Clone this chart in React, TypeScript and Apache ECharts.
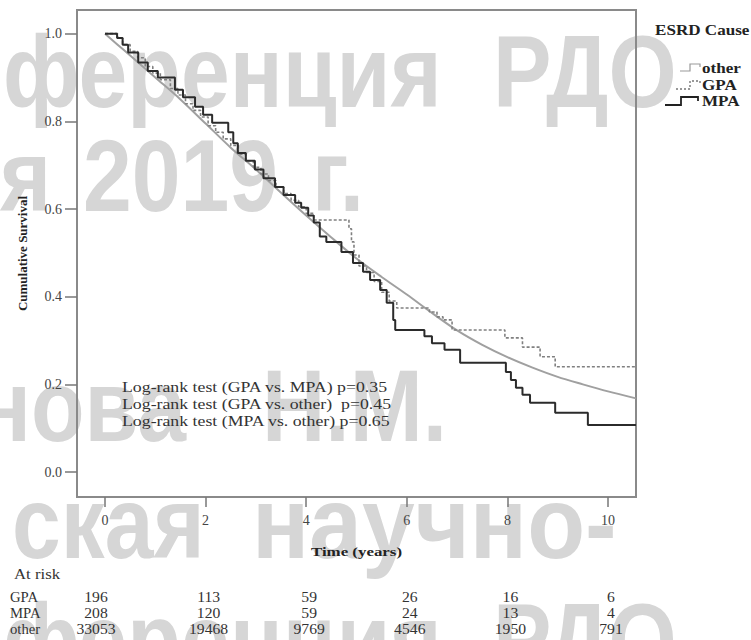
import React, { useEffect, useRef } from "react";
import * as echarts from "echarts";

// ---- data ----
const xTickValues = [0, 2, 4, 6, 8, 10];
const yTickValues = [0, 0.2, 0.4, 0.6, 0.8, 1.0];
const xRange = [-0.557, 10.557];
const yRange = [-0.057, 1.054];

// "other" (large group, smooth-looking curve)
const otherTimes = [0, 0.25, 0.5, 1, 1.5, 2, 2.5, 3, 3.5, 4, 4.5, 5, 5.5, 6, 6.5, 7, 7.5, 8, 8.5, 9, 9.5, 10, 10.557];
const otherSurv = [1.0, 0.975, 0.95, 0.9, 0.85, 0.795, 0.74, 0.69, 0.637, 0.585, 0.535, 0.487, 0.445, 0.405, 0.363, 0.323, 0.29, 0.262, 0.238, 0.217, 0.2, 0.184, 0.168];

// GPA (dashed step curve)
const gpaTimes = [0, 0.25, 0.35, 0.5, 0.65, 0.8, 0.95, 1.1, 1.3, 1.45, 1.6, 1.75, 1.9, 2.05, 2.2, 2.35, 2.5, 2.65, 2.8, 2.95, 3.1, 3.25, 3.4, 3.55, 3.7, 3.85, 4.0, 4.15, 4.85, 4.9, 4.95, 5.05, 5.2, 5.35, 5.5, 5.65, 5.8, 6.45, 6.6, 6.72, 6.9, 7.95, 8.3, 8.65, 8.95, 10.557];
const gpaSurv = [1.0, 0.99, 0.975, 0.96, 0.945, 0.925, 0.91, 0.895, 0.875, 0.86, 0.84, 0.825, 0.81, 0.79, 0.775, 0.76, 0.745, 0.725, 0.71, 0.695, 0.68, 0.665, 0.65, 0.635, 0.62, 0.605, 0.59, 0.575, 0.555, 0.525, 0.495, 0.47, 0.455, 0.435, 0.41, 0.39, 0.374, 0.365, 0.354, 0.347, 0.324, 0.306, 0.285, 0.263, 0.24, 0.24];

// MPA (solid step curve)
const mpaTimes = [0, 0.24, 0.35, 0.46, 0.66, 0.85, 1.05, 1.39, 1.55, 1.79, 1.95, 2.13, 2.45, 2.55, 2.64, 2.8, 2.98, 3.15, 3.38, 3.55, 3.78, 3.9, 4.04, 4.15, 4.27, 4.4, 4.7, 4.93, 5.13, 5.27, 5.47, 5.6, 5.73, 5.77, 6.35, 6.5, 6.75, 7.06, 7.97, 8.07, 8.17, 8.3, 8.45, 8.95, 9.6, 10.557];
const mpaSurv = [1.0, 0.99, 0.975, 0.957, 0.934, 0.915, 0.9, 0.872, 0.855, 0.833, 0.815, 0.797, 0.775, 0.75, 0.728, 0.71, 0.69, 0.67, 0.65, 0.632, 0.614, 0.603, 0.585, 0.569, 0.537, 0.525, 0.502, 0.477, 0.457, 0.438, 0.415, 0.386, 0.347, 0.324, 0.31, 0.294, 0.279, 0.249, 0.228, 0.21, 0.192, 0.176, 0.158, 0.135, 0.107, 0.107];

const legendTitle = "ESRD Cause";
const groupNames = ["other", "GPA", "MPA"];
const logRankLines = [
  "Log-rank test (GPA vs. MPA) p=0.35",
  "Log-rank test (GPA vs. other)  p=0.45",
  "Log-rank test (MPA vs. other) p=0.65",
];
const yAxisTitle = "Cumulative Survival";
const xAxisTitle = "Time (years)";
const atRiskTitle = "At risk";
const atRiskTimes = [0, 2, 4, 6, 8, 10];
const atRiskRowNames = ["GPA", "MPA", "other"];
const atRiskGPA = [196, 113, 59, 26, 16, 6];
const atRiskMPA = [208, 120, 59, 24, 13, 4];
const atRiskOther = [33053, 19468, 9769, 4546, 1950, 791];

// background watermark words
const watermarkWords = [
  "ференция", "РДО",
  "я", "2019", "г.",
  "нова", "Н.М.",
  "ская", "научно-",
  "ференция", "РДО",
];

const SERIF = '"Liberation Serif", "Times New Roman", serif';
const SANS = '"Liberation Sans", Arial, sans-serif';

function pairs(ts: number[], ss: number[]) {
  return ts.map((t, i) => [t, ss[i]]);
}

export default function App() {
  const ref = useRef<HTMLDivElement>(null);
  useEffect(() => {
    document.body.style.margin = "0";
    if (!ref.current) return;
    const chart = echarts.init(ref.current, null, { renderer: "svg" });

    const base: any = {
      animation: false,
      backgroundColor: "#ffffff",
      grid: {
        left: 77, right: 115, top: 10, bottom: 143,
        show: true, borderColor: "#8a8a8a", borderWidth: 2, backgroundColor: "transparent",
      },
      xAxis: {
        type: "value", min: xRange[0], max: xRange[1],
        axisLine: { show: false, onZero: false },
        splitLine: { show: false },
        axisTick: { show: true, inside: false, length: 10, customValues: xTickValues, lineStyle: { color: "#777", width: 1.5 } },
        axisLabel: { customValues: xTickValues, margin: 16, color: "#444", fontFamily: SERIF, fontSize: 14 },
      },
      yAxis: {
        type: "value", min: yRange[0], max: yRange[1],
        axisLine: { show: false, onZero: false },
        splitLine: { show: false },
        axisTick: { show: true, inside: false, length: 12, customValues: yTickValues, lineStyle: { color: "#777", width: 1.5 } },
        axisLabel: { customValues: yTickValues, margin: 15, color: "#444", fontFamily: SERIF, fontSize: 14, formatter: (v: number) => v.toFixed(1) },
      },
      series: [
        {
          name: groupNames[0], type: "line", data: pairs(otherTimes, otherSurv), smooth: 0.3,
          showSymbol: false, silent: true, z: 2,
          lineStyle: { color: "#a0a0a0", width: 2 },
        },
        {
          name: groupNames[1], type: "line", data: pairs(gpaTimes, gpaSurv), step: "end",
          showSymbol: false, silent: true, z: 3,
          lineStyle: { color: "#808080", width: 1.6, type: [3, 2] },
        },
        {
          name: groupNames[2], type: "line", data: pairs(mpaTimes, mpaSurv), step: "end",
          showSymbol: false, silent: true, z: 4,
          lineStyle: { color: "#2b2b2b", width: 2 },
        },
      ],
    };
    chart.setOption(base);

    const px = (t: number) => chart.convertToPixel({ xAxisIndex: 0 }, t) as number;
    const py = (s: number) => chart.convertToPixel({ yAxisIndex: 0 }, s) as number;

    const wmStyle = { fill: "#d6d6d6", font: `bold 102px ${SANS}`, verticalAlign: "middle" };
    const wmPos: [number, number, string, number][] = [
      [3, 72, "left", 0.86], [493, 72, "left", 0.86],
      [0, 176, "left", 0.86], [83, 176, "left", 0.86], [312, 176, "left", 0.86],
      [-22, 406, "left", 0.86], [262, 406, "left", 0.86],
      [12, 523, "left", 0.86], [252, 523, "left", 0.93],
      [3, 640, "left", 0.86], [493, 640, "left", 0.86],
    ];
    const watermark = watermarkWords.map((w, i) => ({
      type: "text", x: wmPos[i][0], y: wmPos[i][1], scaleX: wmPos[i][3], z: -10, silent: true,
      style: { ...wmStyle, text: w, align: wmPos[i][2] },
    }));

    const legendY = [68, 85, 101];
    const legendIcons = [
      { pts: [[680, 71], [690, 71], [690, 64], [700, 64], [700, 67]], color: "#999", dash: null, w: 1.2 },
      { pts: [[676, 89], [690, 89], [690, 81], [700, 81], [700, 84]], color: "#777", dash: [2, 2], w: 1.4 },
      { pts: [[665, 105], [681, 105], [681, 97], [698, 97], [698, 101]], color: "#222", dash: null, w: 1.8 },
    ];

    const textStyle = (txt: string, size: number, bold: boolean, align = "left", fill = "#222") => ({
      text: txt, fill, font: `${bold ? "bold " : ""}${size}px ${SERIF}`, align, verticalAlign: "middle",
    });

    const graphics: any[] = [
      ...watermark,
      { type: "text", x: 655, y: 30, z: 10, scaleX: 1.22, style: textStyle(legendTitle, 14, true) },
      ...groupNames.map((g, i) => ({ type: "text", x: 702, y: legendY[i], z: 10, scaleX: 1.22, style: textStyle(g, 14, true) })),
      ...legendIcons.map((ic) => ({
        type: "polyline", z: 10, shape: { points: ic.pts },
        style: { stroke: ic.color, lineWidth: ic.w, fill: null, lineDash: ic.dash },
      })),
      ...logRankLines.map((l, i) => ({ type: "text", x: 122, y: 387 + i * 17, z: 10, scaleX: 1.27, style: textStyle(l, 14, false, "left", "#333") })),
      { type: "text", x: 22, y: (py(yRange[0]) + py(yRange[1])) / 2, rotation: Math.PI / 2, z: 10, style: textStyle(yAxisTitle, 13, true, "center") },
      { type: "text", x: (px(xRange[0]) + px(xRange[1])) / 2, y: 552, z: 10, scaleX: 1.3, style: textStyle(xAxisTitle, 13, true, "center") },
      { type: "text", x: 14, y: 574, z: 10, scaleX: 1.2, style: textStyle(atRiskTitle, 14, false, "left", "#333") },
    ];
    const rows = [atRiskGPA, atRiskMPA, atRiskOther];
    const rowY = [597, 613, 629];
    rows.forEach((row, r) => {
      graphics.push({ type: "text", x: 10, y: rowY[r], z: 10, scaleX: 1.05, style: textStyle(atRiskRowNames[r], 14, false, "left", "#333") });
      row.forEach((v, c) => {
        const x = px(atRiskTimes[c]) + (c === 0 ? -9 : 3);
        graphics.push({ type: "text", x, y: rowY[r], z: 10, scaleX: 1.12, style: textStyle(String(v), 14, false, "center", "#333") });
      });
    });

    chart.setOption({ graphic: graphics });
    return () => chart.dispose();
  }, []);
  return <div ref={ref} style={{ width: 751, height: 640 }} />;
}
